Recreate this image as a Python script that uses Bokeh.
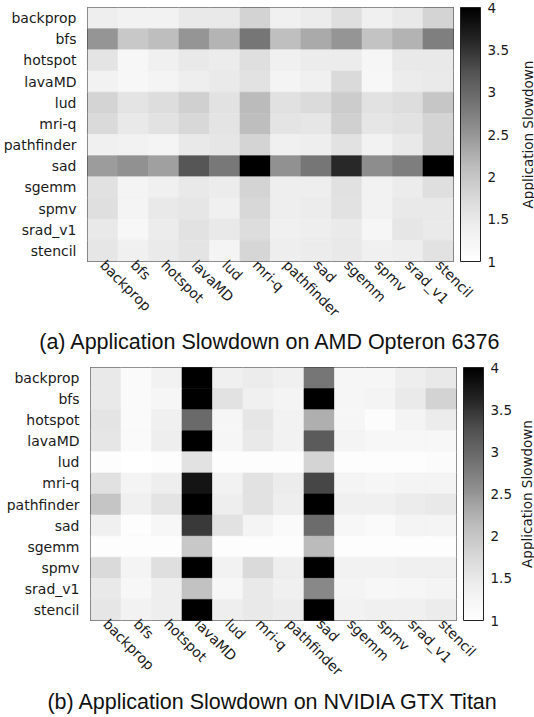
import math
from bokeh.plotting import figure
from bokeh.models import (LinearColorMapper, ColorBar, FixedTicker, Title,
                          ColumnDataSource, Range1d)
from bokeh.layouts import column, row
from bokeh.transform import transform
from bokeh.embed import file_html
from bokeh.resources import INLINE

benchmarks = ["backprop", "bfs", "hotspot", "lavaMD", "lud", "mri-q",
              "pathfinder", "sad", "sgemm", "spmv", "srad_v1", "stencil"]

cbar_ticks = [1, 1.5, 2, 2.5, 3, 3.5, 4]
cbar_tick_labels = ["1", "1.5", "2", "2.5", "3", "3.5", "4"]

caption_amd = "(a) Application Slowdown on AMD Opteron 6376"
caption_gpu = "(b) Application Slowdown on NVIDIA GTX Titan"
cbar_title = "Application Slowdown"

# ---- (a) AMD Opteron 6376: one list per row benchmark, columns = benchmarks
amd_backprop   = [1.41, 1.33, 1.33, 1.50, 1.50, 1.84, 1.38, 1.44, 1.66, 1.38, 1.50, 1.81]
amd_bfs        = [2.50, 1.98, 2.11, 2.50, 2.21, 2.84, 2.09, 2.31, 2.50, 2.05, 2.23, 2.74]
amd_hotspot    = [1.57, 1.19, 1.38, 1.50, 1.44, 1.66, 1.38, 1.44, 1.44, 1.23, 1.50, 1.50]
amd_lavaMD     = [1.33, 1.19, 1.29, 1.41, 1.47, 1.60, 1.29, 1.38, 1.74, 1.19, 1.44, 1.47]
amd_lud        = [1.81, 1.57, 1.69, 1.87, 1.60, 2.14, 1.63, 1.72, 1.93, 1.60, 1.69, 2.00]
amd_mri_q      = [1.74, 1.50, 1.60, 1.77, 1.57, 2.11, 1.57, 1.54, 1.87, 1.54, 1.60, 1.81]
amd_pathfinder = [1.38, 1.33, 1.29, 1.50, 1.54, 1.81, 1.38, 1.41, 1.60, 1.33, 1.50, 1.81]
amd_sad        = [2.45, 2.55, 2.40, 3.20, 2.82, 4.00, 2.55, 2.85, 3.60, 2.60, 2.75, 4.00]
amd_sgemm      = [1.63, 1.29, 1.38, 1.50, 1.44, 1.81, 1.41, 1.41, 1.63, 1.33, 1.44, 1.66]
amd_spmv       = [1.66, 1.29, 1.50, 1.54, 1.38, 1.77, 1.41, 1.44, 1.60, 1.33, 1.50, 1.50]
amd_srad_v1    = [1.50, 1.19, 1.44, 1.60, 1.50, 1.69, 1.38, 1.41, 1.47, 1.23, 1.54, 1.47]
amd_stencil    = [1.54, 1.38, 1.47, 1.57, 1.29, 1.79, 1.41, 1.44, 1.50, 1.38, 1.41, 1.60]

# ---- (b) NVIDIA GTX Titan
gpu_backprop   = [1.50, 1.12, 1.33, 4.00, 1.38, 1.44, 1.38, 2.84, 1.23, 1.23, 1.41, 1.50]
gpu_bfs        = [1.50, 1.12, 1.23, 4.00, 1.60, 1.38, 1.29, 4.00, 1.23, 1.29, 1.47, 1.84]
gpu_hotspot    = [1.57, 1.12, 1.38, 2.97, 1.23, 1.54, 1.33, 2.26, 1.23, 1.08, 1.29, 1.44]
gpu_lavaMD     = [1.54, 1.12, 1.41, 4.00, 1.23, 1.50, 1.33, 3.15, 1.29, 1.19, 1.19, 1.19]
gpu_lud        = [1.06, 1.02, 1.06, 1.60, 1.06, 1.06, 1.06, 1.81, 1.06, 1.06, 1.06, 1.10]
gpu_mri_q      = [1.63, 1.29, 1.41, 3.80, 1.33, 1.60, 1.44, 3.35, 1.29, 1.23, 1.29, 1.29]
gpu_pathfinder = [2.03, 1.38, 1.57, 4.00, 1.41, 1.60, 1.41, 4.00, 1.38, 1.38, 1.44, 1.50]
gpu_sad        = [1.38, 1.06, 1.19, 3.45, 1.60, 1.29, 1.12, 2.95, 1.19, 1.12, 1.29, 1.29]
gpu_sgemm      = [1.06, 1.06, 1.06, 1.98, 1.06, 1.06, 1.06, 2.14, 1.06, 1.06, 1.06, 1.06]
gpu_spmv       = [1.74, 1.29, 1.66, 4.00, 1.33, 1.74, 1.41, 4.00, 1.33, 1.33, 1.38, 1.38]
gpu_srad_v1    = [1.50, 1.19, 1.41, 2.06, 1.19, 1.50, 1.38, 2.65, 1.29, 1.19, 1.23, 1.29]
gpu_stencil    = [1.54, 1.33, 1.41, 4.00, 1.41, 1.50, 1.44, 4.00, 1.33, 1.38, 1.38, 1.44]

amd_rows = [amd_backprop, amd_bfs, amd_hotspot, amd_lavaMD, amd_lud, amd_mri_q,
            amd_pathfinder, amd_sad, amd_sgemm, amd_spmv, amd_srad_v1, amd_stencil]
gpu_rows = [gpu_backprop, gpu_bfs, gpu_hotspot, gpu_lavaMD, gpu_lud, gpu_mri_q,
            gpu_pathfinder, gpu_sad, gpu_sgemm, gpu_spmv, gpu_srad_v1, gpu_stencil]

# matplotlib-like "Greys" colormap (white -> black), 256 steps
greys_stops = ["#ffffff", "#f0f0f0", "#d9d9d9", "#bdbdbd", "#969696",
               "#737373", "#525252", "#252525", "#000000"]


def build_palette(stops, n=256):
    vals = [int(s[1:3], 16) for s in stops]
    out = []
    for i in range(n):
        t = i / (n - 1) * (len(vals) - 1)
        k = min(int(t), len(vals) - 2)
        f = t - k
        g = round(vals[k] + (vals[k + 1] - vals[k]) * f)
        out.append("#%02x%02x%02x" % (g, g, g))
    return out


palette = build_palette(greys_stops)

LABEL_FONT = "DejaVu Sans"
LABEL_SIZE = "14px"
TEXT_COLOR = "#1a1a1a"
PAGE_W = 534
LAB_W = 18


def make_heatmap(rows, caption, left, top, frame_w, frame_h, bottom, cap_standoff):
    xs, ys, vs = [], [], []
    for r, name in enumerate(benchmarks):
        for c, col in enumerate(benchmarks):
            xs.append(col)
            ys.append(name)
            vs.append(rows[r][c])
    src = ColumnDataSource(dict(x=xs, y=ys, v=vs))
    mapper = LinearColorMapper(palette=palette, low=1, high=4,
                               low_color="#ffffff", high_color="#000000")

    right = PAGE_W - LAB_W - left - frame_w
    p = figure(x_range=benchmarks, y_range=list(reversed(benchmarks)),
               frame_width=frame_w, frame_height=frame_h,
               min_border_left=left, min_border_top=top,
               min_border_right=right, min_border_bottom=bottom,
               toolbar_location=None, tools="", output_backend="svg")
    p.rect(x="x", y="y", width=1, height=1, source=src,
           fill_color=transform("v", mapper),
           line_color=transform("v", mapper), line_width=0.6)

    p.grid.visible = False
    p.outline_line_color = "#333333"
    p.outline_line_width = 1
    p.background_fill_color = "white"
    p.border_fill_color = "white"

    for ax in (p.xaxis[0], p.yaxis[0]):
        ax.axis_line_color = None
        ax.major_tick_line_color = None
        ax.minor_tick_line_color = None
        ax.major_tick_out = 0
        ax.major_tick_in = 0
        ax.major_label_text_font = LABEL_FONT
        ax.major_label_text_font_size = LABEL_SIZE
        ax.major_label_text_color = TEXT_COLOR
    p.yaxis.major_label_standoff = 11
    p.xaxis.major_label_standoff = 1
    p.xaxis.major_label_orientation = -math.pi / 4

    cb = ColorBar(color_mapper=mapper,
                  ticker=FixedTicker(ticks=cbar_ticks),
                  major_label_overrides=dict(zip(cbar_ticks, cbar_tick_labels)),
                  width=20, height=frame_h, margin=0, padding=0,
                  location=(frame_w + 7, 0),
                  bar_line_color="#222222", bar_line_width=1,
                  border_line_color=None, background_fill_color=None,
                  major_tick_line_color=None, minor_tick_line_color=None,
                  label_standoff=7,
                  major_label_text_font=LABEL_FONT,
                  major_label_text_font_size="13.5px",
                  major_label_text_color=TEXT_COLOR)
    p.add_layout(cb, "center")

    t = Title(text=caption, align="center", standoff=cap_standoff,
              text_font="Liberation Sans", text_font_size="21.5px",
              text_font_style="normal", text_color="#111111")
    p.add_layout(t, "below")

    # narrow companion canvas holding the colour-bar title (reads bottom-to-top)
    lab = figure(width=LAB_W, frame_height=frame_h,
                 min_border_left=0, min_border_right=0,
                 min_border_top=top, min_border_bottom=bottom,
                 x_range=Range1d(0, 1), y_range=Range1d(0, 1),
                 x_axis_location=None, y_axis_location=None,
                 toolbar_location=None, tools="", output_backend="svg")
    lab.outline_line_color = None
    lab.grid.visible = False
    lab.border_fill_color = "white"
    lab.add_layout(Title(text=cbar_title, align="center", standoff=0,
                         text_font=LABEL_FONT, text_font_size="13.5px",
                         text_font_style="normal", text_color=TEXT_COLOR), "left")
    return row(p, lab, spacing=0)


r1 = make_heatmap(amd_rows, caption_amd, left=86, top=7, frame_w=366, frame_h=254,
                  bottom=97, cap_standoff=-2)
r2 = make_heatmap(gpu_rows, caption_gpu, left=90, top=9, frame_w=366, frame_h=253,
                  bottom=97, cap_standoff=1)

layout = column(r1, r2, spacing=0)

with open("out.html", "w") as f:
    f.write(file_html(layout, INLINE))
